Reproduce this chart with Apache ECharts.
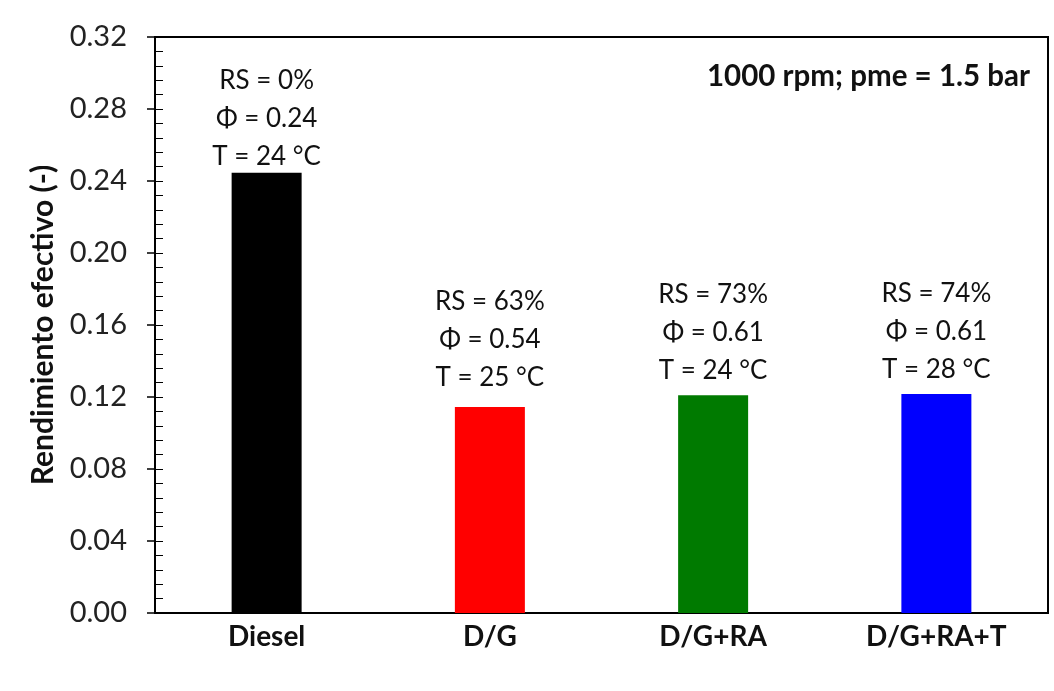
<!DOCTYPE html>
<html><head><meta charset="utf-8">
<script src="https://cdn.jsdelivr.net/npm/echarts@6/dist/echarts.min.js"></script>
<style>html,body{margin:0;padding:0;background:#fff}#c{width:1054px;height:691px}</style>
</head><body><div id="c"></div>
<script>
const categories = ['Diesel', 'D/G', 'D/G+RA', 'D/G+RA+T'];
const values = [0.2446, 0.1144, 0.1210, 0.1217];
const colors = ['#000000', '#ff0000', '#007a00', '#0000ff'];
const rsLabels = ['RS = 0%', 'RS = 63%', 'RS = 73%', 'RS = 74%'];
const phiLabels = ['Φ = 0.24', 'Φ = 0.54', 'Φ = 0.61', 'Φ = 0.61'];
const tLabels = ['T = 24 °C', 'T = 25 °C', 'T = 24 °C', 'T = 28 °C'];
const yTicks = [0, 0.04, 0.08, 0.12, 0.16, 0.20, 0.24, 0.28, 0.32];

const labelGap = [-3, 10, 6, 5];
const font = 'Lato, "Open Sans", sans-serif';
const chart = echarts.init(document.getElementById('c'));
chart.setOption({
  backgroundColor: '#fff',
  animation: false,
  grid: { left: 155, right: 6, top: 37, bottom: 78, show: true, borderColor: '#000', borderWidth: 2, backgroundColor: 'transparent' },
  xAxis: {
    type: 'category', data: categories,
    axisLine: { lineStyle: { color: '#000', width: 2 } },
    axisTick: { show: false },
    axisLabel: { color: '#111', fontFamily: font, fontWeight: 'bold', fontSize: 28, margin: 10 }
  },
  yAxis: [{
    type: 'value', min: 0, max: 0.32, interval: 0.04,
    name: 'Rendimiento efectivo (-)', nameLocation: 'middle', nameGap: 87,
    nameTextStyle: { color: '#111', fontFamily: font, fontWeight: 'bold', fontSize: 30 },
    axisLine: { show: true, lineStyle: { color: '#000', width: 2 } },
    axisTick: { show: true, length: 8, lineStyle: { color: '#000', width: 1.5 } },
    axisLabel: { color: '#222', fontFamily: font, fontSize: 29, margin: 28,
      formatter: v => { const t = yTicks.find(x => Math.abs(x - v) < 1e-9); return (t !== undefined ? t : v).toFixed(2); } },
    splitLine: { show: false }
  }, {
    type: 'value', min: 0, max: 0.32, interval: 0.008, position: 'left',
    axisLine: { show: false },
    axisTick: { show: true, inside: true, length: 8, lineStyle: { color: '#000', width: 1 } },
    axisLabel: { show: false },
    splitLine: { show: false }
  }],
  series: [{
    type: 'bar', barWidth: 70,
    data: values.map((v, i) => ({ value: v, itemStyle: { color: colors[i] }, label: { distance: labelGap[i] } })),
    label: {
      show: true, position: 'top',
      color: '#111', fontFamily: font, fontSize: 26, lineHeight: 38,
      formatter: p => rsLabels[p.dataIndex] + '\n' + phiLabels[p.dataIndex] + '\n' + tLabels[p.dataIndex]
    }
  }],
  graphic: [{
    type: 'text', right: 24, top: 61,
    style: { text: '1000 rpm; pme = 1.5 bar', fill: '#111', font: 'bold 29.5px ' + font }
  }]
});
</script></body></html>
